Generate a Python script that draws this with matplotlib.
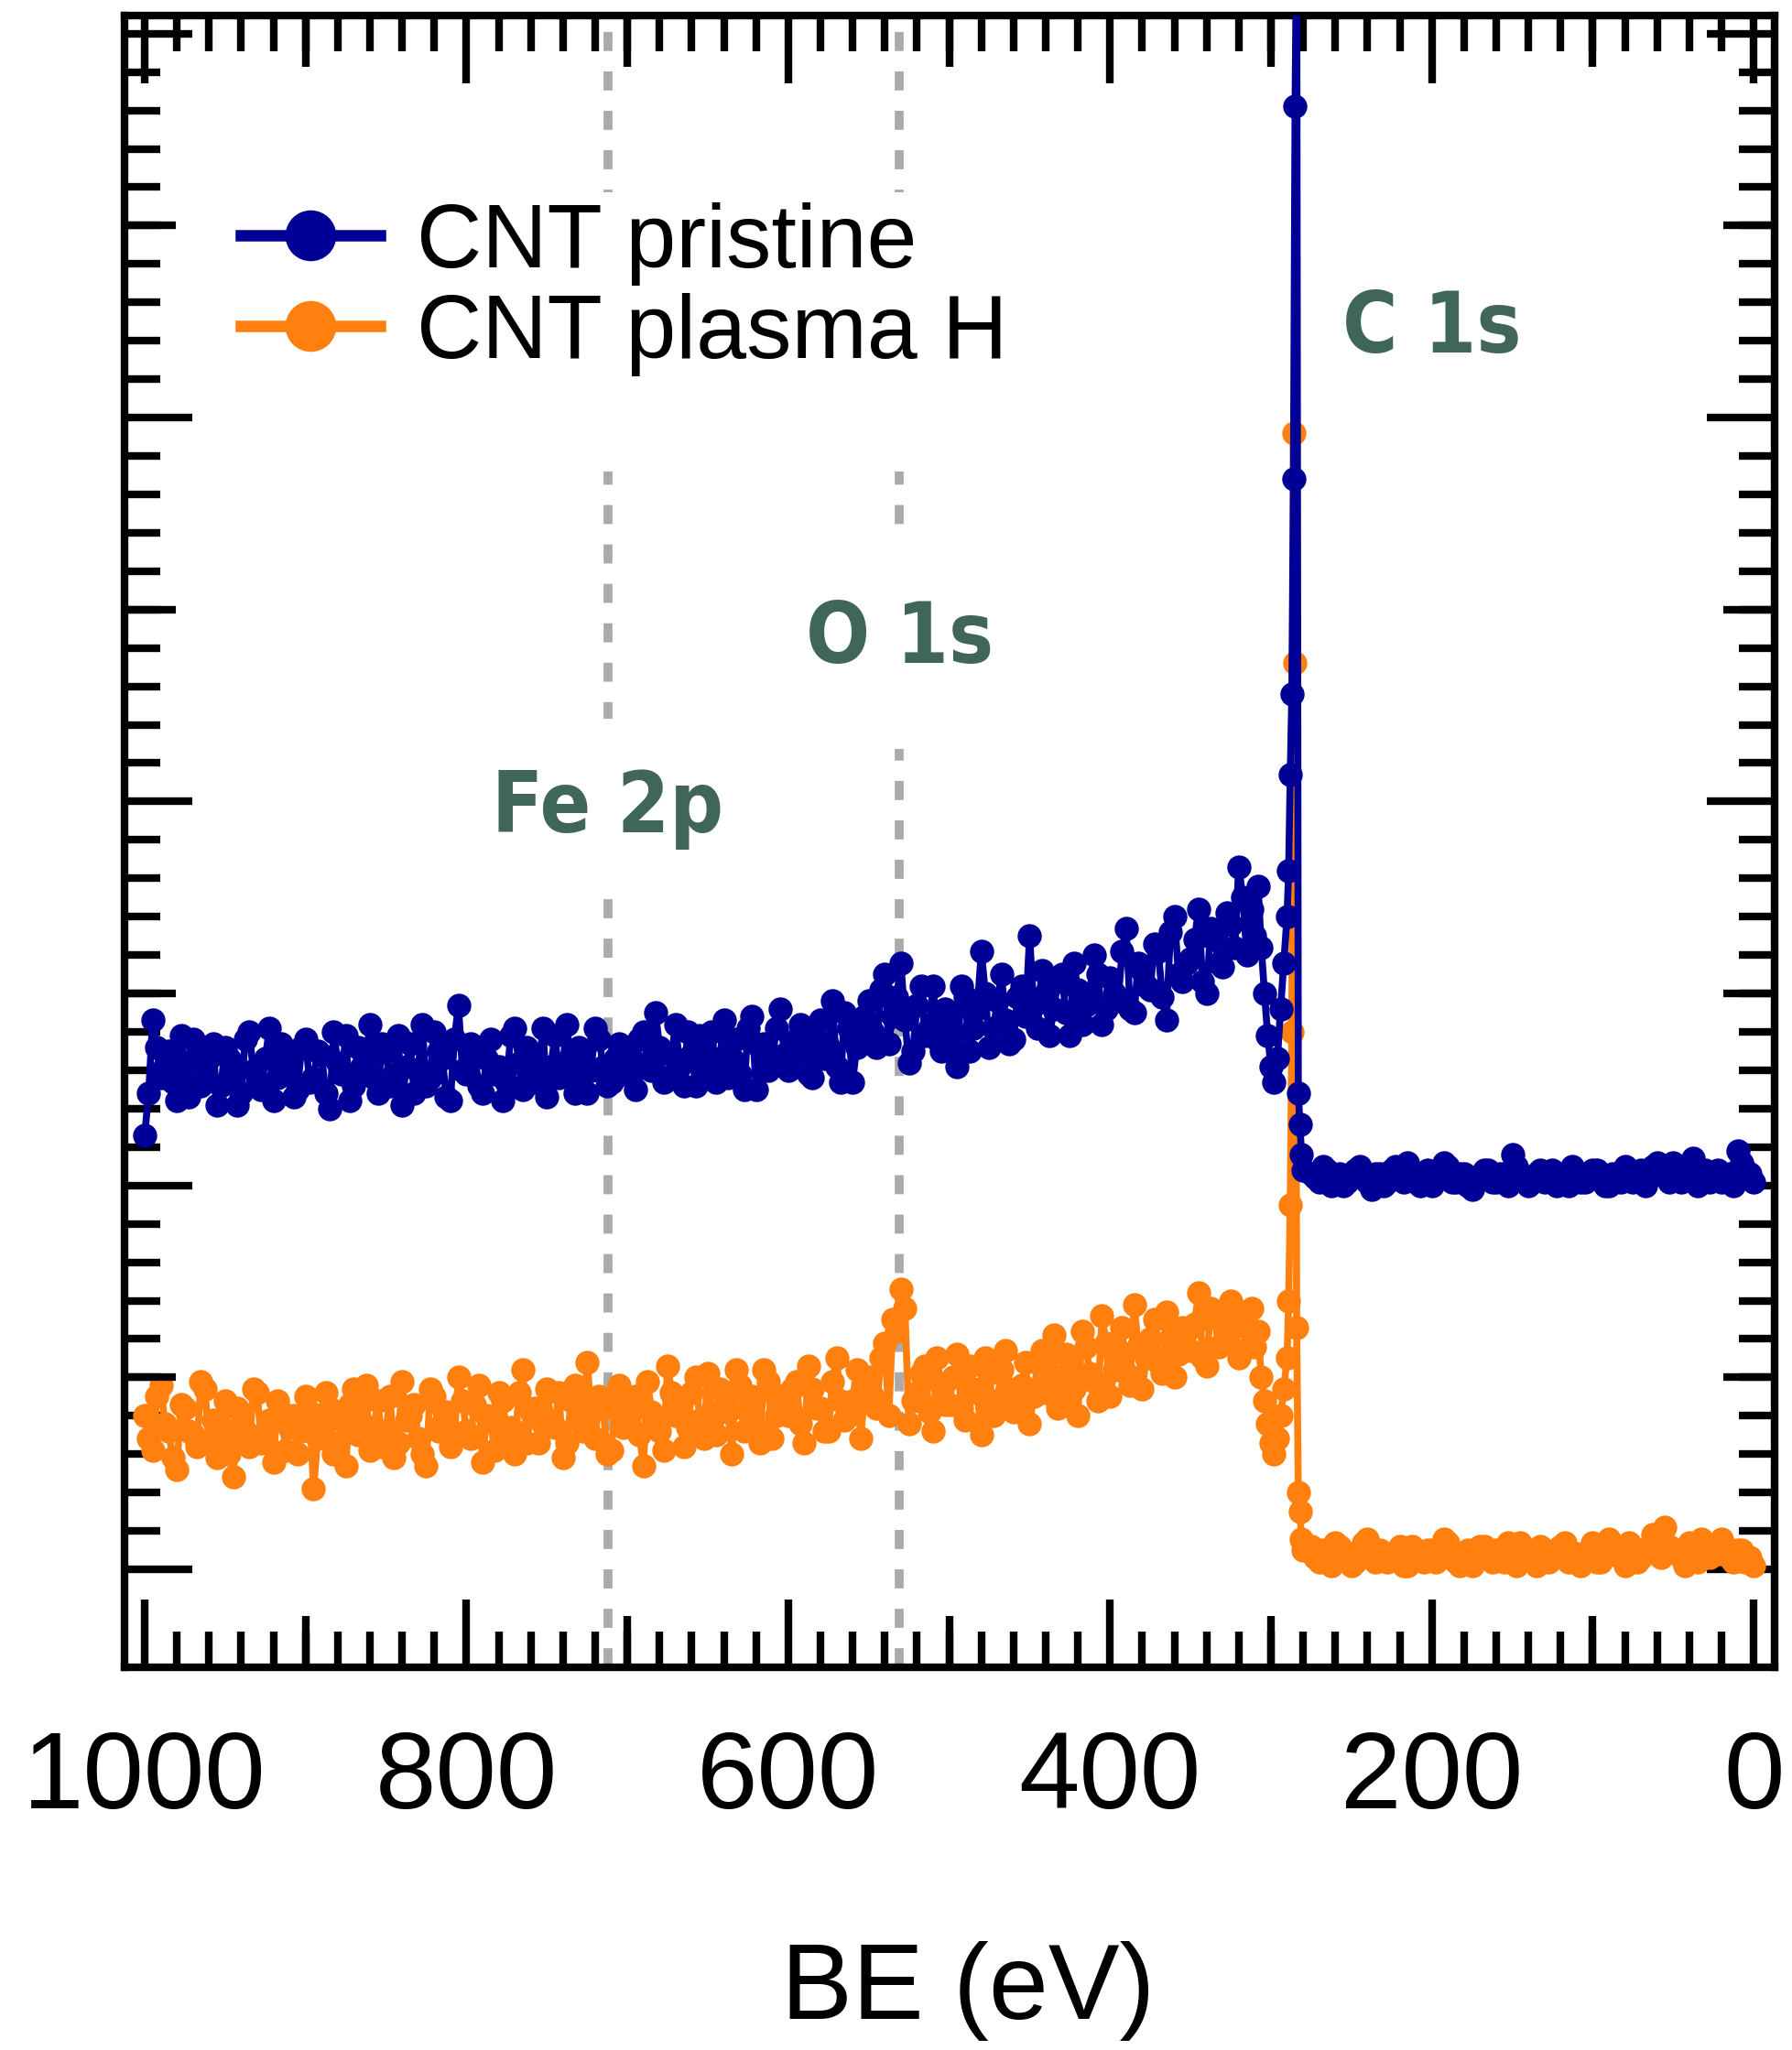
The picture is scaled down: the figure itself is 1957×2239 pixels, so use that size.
import numpy as np
import matplotlib
matplotlib.use("Agg")
import matplotlib.pyplot as plt
from matplotlib.lines import Line2D
from matplotlib.patches import Rectangle
from matplotlib.ticker import FixedLocator, NullLocator
from matplotlib import font_manager

plt.rcParams['font.family'] = ['Liberation Sans', 'DejaVu Sans']

# ---------------- data (binding energy in eV, intensity in arb. units x100) -------------
be_wide = np.arange(1000, 314, -5)          # 1000 ... 315 eV
be_mid = np.arange(997.5, 315, -5)          # 997.5 ... 317.5 eV
be_peak = np.array([312, 310, 308, 306, 304, 302, 300, 298, 296, 294, 292,
                    290, 289, 288, 287, 286, 285, 284, 283, 282, 281, 280])
be_flat = np.arange(275, -1, -5)            # 275 ... 0 eV
be_flat_mid = np.arange(272.5, 0, -5)       # 272.5 ... 2.5 eV

pristine_wide = [
    113, 143, 128, 135, 122, 131, 138, 126, 133, 121,
    136, 129, 124, 140, 127, 133, 122, 137, 130, 125,
    138, 128, 134, 120, 132, 139, 126, 131, 142, 124,
    135, 129, 121, 137, 130, 126, 140, 133, 122, 147,
    129, 135, 124, 138, 131, 127, 141, 125, 134, 130,
    123, 139, 132, 128, 136, 124, 141, 131, 127, 137,
    133, 125, 140, 130, 136, 128, 142, 126, 134, 139,
    131, 127, 143, 133, 129, 141, 125, 137, 132, 146,
    130, 138, 134, 128, 143, 136, 131, 145, 127, 140,
    148, 136, 155, 144, 158, 132, 147, 139, 152, 135,
    144, 131, 149, 141, 161, 136, 148, 143, 138, 152,
    165, 141, 150, 146, 155, 139, 151, 147, 160, 142,
    154, 148, 167, 145, 156, 151, 161, 143, 170, 153,
    159, 172, 150, 164, 157, 168, 183, 160]
pristine_mid = [
    124, 136, 131, 127, 139, 123, 134, 129, 137, 126,
    133, 121, 138, 130, 125, 141, 128, 134, 123, 136,
    127, 135, 124, 140, 129, 122, 136, 133, 128, 137,
    126, 139, 131, 124, 142, 128, 135, 123, 138, 130,
    137, 126, 133, 129, 122, 139, 132, 136, 127, 141,
    131, 128, 142, 124, 135, 130, 138, 126, 133, 129,
    129, 138, 132, 145, 127, 134, 131, 140, 126, 137,
    140, 133, 128, 138, 125, 144, 136, 130, 141, 134,
    135, 142, 129, 138, 133, 148, 127, 141, 136, 144,
    140, 151, 137, 149, 143, 135, 152, 141, 138, 146,
    139, 152, 135, 146, 150, 141, 155, 137, 149, 144,
    147, 156, 139, 153, 145, 158, 142, 150, 155, 146,
    150, 161, 146, 158, 152, 163, 149, 166, 155, 158,
    164, 153, 167, 158, 171, 162, 175]
pristine_peak = [172, 165, 178, 162, 150, 139, 131, 127, 133, 146, 158,
                 170, 182, 207, 228, 284, 381, 430, 124, 116, 108, 104]
pristine_flat = [
    103, 101, 104, 102, 100, 103, 105, 101, 103, 100,
    104, 102, 106, 101, 103, 100, 102, 105, 101, 103,
    99, 102, 104, 101, 103, 108, 102, 100, 103, 101,
    104, 102, 100, 103, 101, 104, 102, 100, 103, 105,
    101, 104, 102, 106, 103, 106, 101, 103, 100, 104,
    102, 101, 103, 109, 104, 101]
pristine_flat_mid = [
    102, 105, 100, 103, 101, 104, 102, 99, 103, 101,
    105, 101, 103, 100, 104, 102, 106, 101, 103, 100,
    102, 104, 101, 103, 100, 105, 102, 101, 104, 102,
    100, 103, 105, 101, 102, 104, 100, 103, 101, 104,
    102, 100, 105, 103, 101, 104, 102, 107, 103, 101,
    104, 102, 100, 106, 103]

plasma_wide = [
    40, 31, 48, 36, 26, 42, 35, 49, 33, 29,
    44, 24, 38, 32, 46, 35, 28, 41, 37, 30,
    45, 21, 36, 42, 33, 27, 47, 38, 31, 44,
    36, 29, 49, 40, 34, 27, 45, 38, 32, 50,
    36, 43, 28, 39, 46, 35, 30, 52, 41, 33,
    47, 37, 29, 44, 39, 54, 34, 42, 31, 48,
    38, 45, 27, 41, 36, 53, 40, 32, 46, 39,
    51, 35, 43, 30, 48, 41, 37, 52, 34, 45,
    40, 49, 33, 47, 42, 36, 55, 39, 44, 34,
    50, 42, 59, 65, 73, 38, 46, 53, 36, 48,
    43, 56, 39, 47, 35, 51, 44, 57, 41, 48,
    38, 54, 46, 61, 43, 52, 40, 58, 49, 66,
    45, 57, 51, 69, 47, 60, 54, 67, 50, 63,
    57, 72, 53, 66, 59, 70, 55, 63]
plasma_mid = [
    34, 45, 38, 29, 43, 36, 32, 47, 39, 35,
    30, 42, 36, 47, 33, 39, 44, 31, 40, 36,
    41, 34, 46, 30, 39, 43, 35, 48, 37, 32,
    45, 33, 39, 43, 30, 47, 36, 41, 35, 44,
    34, 48, 40, 31, 44, 37, 46, 33, 42, 38,
    39, 46, 33, 48, 36, 41, 45, 30, 43, 37,
    44, 35, 49, 39, 31, 46, 42, 37, 50, 34,
    38, 47, 41, 52, 36, 45, 33, 49, 40, 43,
    47, 38, 53, 42, 36, 49, 44, 40, 52, 46,
    45, 55, 40, 62, 68, 44, 51, 41, 55, 43,
    50, 42, 53, 46, 55, 40, 52, 47, 44, 54,
    45, 57, 49, 42, 56, 47, 62, 51, 44, 59,
    52, 63, 48, 58, 55, 65, 51, 60, 56, 62,
    64, 55, 68, 58, 62, 66, 57]
plasma_peak = [68, 58, 62, 50, 44, 38, 33, 30, 34, 40, 47,
               55, 70, 95, 140, 296, 236, 63, 20, 15, 8, 5]
plasma_flat = [
    6, 2, 4, 7, 3, 1, 5, 8, 2, 4,
    3, 6, 1, 4, 2, 5, 3, 7, 2, 4,
    1, 6, 3, 5, 2, 4, 7, 3, 1, 5,
    3, 6, 2, 4, 3, 7, 2, 8, 4, 1,
    5, 3, 6, 4, 11, 5, 3, 7, 2, 6,
    4, 8, 3, 5, 2, 1]
plasma_flat_mid = [
    3, 5, 1, 6, 4, 2, 7, 3, 5, 2,
    4, 1, 6, 3, 5, 2, 8, 4, 1, 5,
    3, 6, 2, 4, 7, 1, 5, 3, 6, 2,
    4, 7, 3, 1, 5, 2, 6, 4, 3, 7,
    2, 5, 9, 3, 6, 4, 1, 5, 8, 3,
    4, 6, 2, 5, 3]

series_labels = ["CNT pristine", "CNT plasma H"]
peak_names = ["Fe 2p", "O 1s", "C 1s"]
peak_be = [712, 531, 200]
peak_label_y = [1.92, 2.361, 3.17]
xtick_values = [1000, 800, 600, 400, 200, 0]
xtick_labels = ["1000", "800", "600", "400", "200", "0"]


def interleave(a, b):
    out = np.empty(len(a) + len(b))
    out[0::2] = a
    out[1::2] = b
    return out


be = np.concatenate([interleave(be_wide, be_mid), be_peak,
                     interleave(be_flat, be_flat_mid)])
pristine = np.concatenate([interleave(pristine_wide, pristine_mid), pristine_peak,
                           interleave(pristine_flat, pristine_flat_mid)]) / 100.0
plasma = np.concatenate([interleave(plasma_wide, plasma_mid), plasma_peak,
                         interleave(plasma_flat, plasma_flat_mid)]) / 100.0

# ---------------- style ----------------
BLUE = '#000096'
ORANGE = '#ff800e'
LABEL_GREEN = '#3f6659'
GREY = '#aaaaaa'
SPINE_W = 6

fig = plt.figure(figsize=(19.58, 22.39), dpi=100)
ax = fig.add_axes([0.06946, 0.18669, 0.9203, 0.80572])
ax.set_xlim(1012.5, -13)
ax.set_ylim(-0.255, 4.047)

ax.plot(be, plasma, '-o', color=ORANGE, lw=5.5, ms=19, mew=0, zorder=3)
ax.plot(be, pristine, '-o', color=BLUE, lw=5.5, ms=19, mew=0, zorder=4)

# reference lines for Fe 2p and O 1s
dash_lw = 7
for x in peak_be[:2]:
    ax.axvline(x, color=GREY, lw=dash_lw, linestyle=(0, (15 / dash_lw, 16 / dash_lw)),
               zorder=1)

# white area behind the legend
ax.add_patch(Rectangle((0.26, 0.724), 0.26, 0.169, transform=ax.transAxes,
                       facecolor='white', edgecolor='none', zorder=1.5))

# peak labels
fp_c = font_manager.FontProperties(family='DejaVu Sans', weight='bold', stretch='condensed')
path = font_manager.findfont(fp_c, fallback_to_default=True)
if 'Condensed' in path:
    label_fp, label_size = fp_c, 66
else:
    label_fp, label_size = font_manager.FontProperties(family='DejaVu Sans', weight='bold'), 60
pads = [38, 54, 10]
for name, x, y, pad in zip(peak_names, peak_be, peak_label_y, pads):
    ax.text(x, y, name, fontproperties=label_fp, fontsize=label_size, color=LABEL_GREEN,
            ha='center', va='baseline', zorder=2,
            bbox=dict(facecolor='white', edgecolor='none', pad=pad))

# legend
handles = [Line2D([], [], color=BLUE, lw=9, marker='o', ms=40, mew=0),
           Line2D([], [], color=ORANGE, lw=9, marker='o', ms=40, mew=0)]
leg = ax.legend(handles, series_labels, loc='upper left', bbox_to_anchor=(0.0704, 0.887),
                frameon=False, fontsize=71, handlelength=1.54, handletextpad=0.41,
                labelspacing=0.08, borderpad=0, borderaxespad=0)
leg.set_zorder(6)

# medium ticks (every 100 eV and every half unit) on twin axes
axm = ax.twiny()
axm.set_xlim(ax.get_xlim())
axm.set_xticks([900, 700, 500, 300, 100])
axm.xaxis.set_minor_locator(NullLocator())
axm.xaxis.set_ticks_position('both')
axm.tick_params(axis='x', which='major', direction='in', length=40, width=SPINE_W,
                labeltop=False, labelbottom=False)
for s in axm.spines.values():
    s.set_visible(False)

aym = ax.twinx()
aym.set_ylim(ax.get_ylim())
aym.set_yticks([0.5, 1.5, 2.5, 3.5])
aym.yaxis.set_minor_locator(NullLocator())
aym.yaxis.set_ticks_position('both')
aym.tick_params(axis='y', which='major', direction='in', length=40, width=SPINE_W,
                labelleft=False, labelright=False)
for s in aym.spines.values():
    s.set_visible(False)

# main axes / ticks (after twins, which reset tick sides)
for s in ax.spines.values():
    s.set_linewidth(SPINE_W)
ax.set_xticks(xtick_values)
ax.set_xticklabels(xtick_labels)
ax.xaxis.set_minor_locator(FixedLocator(np.arange(1000, -1, -20)))
ax.set_yticks([0, 1, 2, 3, 4])
ax.yaxis.set_minor_locator(FixedLocator(np.arange(0, 4.01, 0.1)))
ax.tick_params(axis='both', which='both', direction='in', top=True, bottom=True,
               left=True, right=True, width=SPINE_W, labelleft=False, labelright=False,
               labeltop=False, labelbottom=True, labelsize=86)
ax.tick_params(axis='x', which='major', length=53, pad=49)
ax.tick_params(axis='y', which='major', length=53)
ax.tick_params(axis='both', which='minor', length=28)
ax.set_xlabel("BE (eV)", fontsize=84, labelpad=86, x=0.511)

fig.savefig("out.png", dpi=100)
